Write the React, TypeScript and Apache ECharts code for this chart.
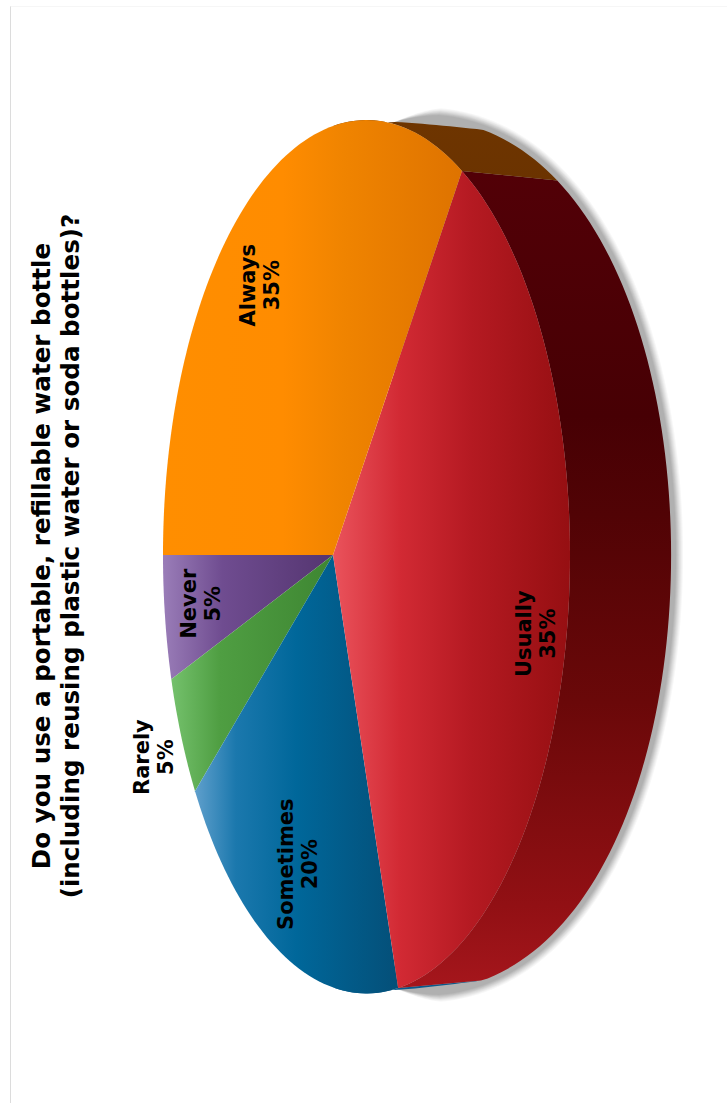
import React, { useEffect, useRef } from "react";
import * as echarts from "echarts";

// Survey answers, clockwise from the left-most rim point of the disc.
const categories = ["Never", "Rarely", "Sometimes", "Usually", "Always"];
const shares = [5, 5, 20, 35, 35];
const titleLines = [
  "Do you use a portable, refillable water bottle",
  "(including reusing plastic water or soda bottles)?",
];

// How far along its slice's middle radius each label sits (1 = rim),
// plus a small nudge in pixels.
const labelReach = [0.75, 1.25, 0.78, 0.9, 0.78];
const labelNudgeX = [-1, 5, 8, -3, -7];
const labelNudgeY = [0, -18, -2, 8, 12];

// Top-face shading, darker towards the wall side of the disc.
const faceStops: [number, string][][] = [
  [[0, "#9A7DB8"], [0.35, "#6F4C90"], [1, "#543570"]],
  [[0, "#74C16C"], [0.3, "#4F9E42"], [1, "#3E8632"]],
  [[0, "#5F9FCC"], [0.2, "#1B78AD"], [0.5, "#00679A"], [1, "#044F78"]],
  [[0, "#EA535C"], [0.28, "#D22A34"], [0.58, "#B51A22"], [1, "#960F12"]],
  [[0, "#FF8E00"], [0.4, "#FF8C00"], [0.6, "#F08400"], [1, "#DE7300"]],
];
const wallStops: [number, string][][] = [
  [[0, "#552E66"], [1, "#552E66"]],
  [[0, "#3C7F30"], [1, "#3C7F30"]],
  [[0, "#0A5A8C"], [1, "#0A5A8C"]],
  [[0, "#520007"], [0.3, "#470004"], [0.42, "#510305"], [0.65, "#6A0809"], [0.9, "#921014"], [1, "#A5161C"]],
  [[0, "#6E3500"], [1, "#6B3300"]],
];

// Outline spread and opacity of the stacked layers that make the soft shadow.
const shadowSpread = [12, 11, 10, 9, 8, 7, 6, 5];
const shadowAlpha = [0.03, 0.03, 0.04, 0.04, 0.05, 0.05, 0.05, 0.05];

// Perspective of the tilted disc: apex, half-axes and foreshortening.
const APEX_X = 333;
const APEX_Y = 555;
const AXIS_X = 198;
const AXIS_Y = 429;
const NEAR_SIDE_Y = 1.008;
const TILT = 0.1646;
// Slight stretch of the slice angles next to the left-most rim point.
const LENS = 4.8;
// Rim of the underside as seen past the wall.
const BASE_X = 394.6;
const BASE_AXIS_X = 276.5;
const BASE_AXIS_Y = 433;
const BASE_TILT = 0.11;
// Close to its ends the silhouette runs nearly straight into the top face.
const BASE_FLAT_U = 0.32;
const BASE_FLAT_EASE = 1.25;
const BASE_END_UP = 433;
const BASE_END_DOWN = 435;

const STEP = 1.5;
const WALL_FROM = 90;
const WALL_TO = 270;
const FONT = '"DejaVu Sans", sans-serif';

const toRad = (deg: number) => (deg * Math.PI) / 180;

function lens(deg: number) {
  const r = toRad(deg);
  return deg + LENS * Math.sin(r) * Math.pow((1 + Math.cos(r)) / 2, 3);
}

function topPoint(deg: number, reach = 1): [number, number] {
  const u = -Math.cos(toRad(deg)) * reach;
  const v = Math.sin(toRad(deg)) * reach;
  const d = 1 - TILT * u;
  const yScale = v > 0 ? AXIS_Y * NEAR_SIDE_Y : AXIS_Y;
  return [APEX_X + (AXIS_X * u) / d, APEX_Y + (yScale * v) / d];
}

function rawBase(u: number, v: number): [number, number] {
  return [BASE_X + BASE_AXIS_X * u, APEX_Y + (BASE_AXIS_Y * v) / (1 - BASE_TILT * u)];
}

function basePoint(deg: number): [number, number] {
  const u = -Math.cos(toRad(deg));
  const v = Math.sin(toRad(deg));
  if (u >= BASE_FLAT_U) return rawBase(u, v);
  const sign = v >= 0 ? 1 : -1;
  const [fx, fy] = rawBase(BASE_FLAT_U, sign * Math.sqrt(1 - BASE_FLAT_U * BASE_FLAT_U));
  const endY = APEX_Y + sign * (sign > 0 ? BASE_END_DOWN : BASE_END_UP);
  const t = Math.max(u, 0) / BASE_FLAT_U;
  return [BASE_X + (fx - BASE_X) * t, endY + (fy - endY) * Math.pow(t, BASE_FLAT_EASE)];
}

// Rim of the underside pushed outwards, fading to nothing at its two ends.
function shadowPoint(deg: number, spread: number): [number, number] {
  const u = -Math.cos(toRad(deg));
  const v = Math.sin(toRad(deg));
  const [x, y] = rawBase(u, v);
  const nx = u / BASE_AXIS_X;
  const ny = v / BASE_AXIS_Y;
  const len = Math.hypot(nx, ny);
  const amount = spread * Math.min(1, Math.max(u, 0) / 0.15);
  return [x + (amount * nx) / len, y + (amount * ny) / len];
}

function sweep(from: number, to: number, at: (deg: number) => [number, number]) {
  const pts: [number, number][] = [];
  const n = Math.max(2, Math.ceil((to - from) / STEP));
  for (let i = 0; i <= n; i++) pts.push(at(from + ((to - from) * i) / n));
  return pts;
}

function sliceRange(index: number): [number, number] {
  let start = 0;
  for (let i = 0; i < index; i++) start += shares[i] * 3.6;
  return [lens(start), lens(start + shares[index] * 3.6)];
}

const gradient = (stops: [number, string][], horizontal: boolean) =>
  new echarts.graphic.LinearGradient(
    0,
    0,
    horizontal ? 1 : 0,
    horizontal ? 0 : 1,
    stops.map(([offset, color]) => ({ offset, color }))
  );

const sliceData = shares.map((s) => [s]);
const shadowData = shadowSpread.map((s, i) => [s, shadowAlpha[i]]);

function buildOption() {
  return {
    animation: false,
    backgroundColor: "#ffffff",
    graphic: [
      {
        type: "line",
        silent: true,
        shape: { x1: 10.5, y1: 6, x2: 10.5, y2: 1103 },
        style: { stroke: "#dcdcdc", lineWidth: 1 },
      },
      {
        type: "line",
        silent: true,
        shape: { x1: 10.5, y1: 6.5, x2: 727, y2: 6.5 },
        style: { stroke: "#f6f6f6", lineWidth: 1 },
      },
      {
        type: "text",
        silent: true,
        x: 56,
        y: 556,
        rotation: Math.PI / 2,
        style: {
          text: titleLines.join("\n"),
          font: `bold 24.6px ${FONT}`,
          lineHeight: 29,
          fill: "#000000",
          align: "center",
          verticalAlign: "middle",
        },
      },
    ],
    series: [
      {
        // Soft shadow around the visible part of the wall.
        type: "custom",
        coordinateSystem: "none",
        silent: true,
        z: 1,
        data: shadowData,
        renderItem: (_: unknown, api: any) => {
          const spread = api.value(0);
          return {
            type: "polygon",
            shape: {
              points: sweep(WALL_FROM, WALL_TO, (deg) => shadowPoint(deg, spread)),
            },
            style: { fill: `rgba(0,0,0,${api.value(1)})` },
          };
        },
      },
      {
        // Side wall of each slice.
        type: "custom",
        coordinateSystem: "none",
        silent: true,
        z: 2,
        data: sliceData,
        renderItem: (params: any) => {
          const [start, end] = sliceRange(params.dataIndex);
          const from = Math.max(start, WALL_FROM);
          const to = Math.min(end, WALL_TO);
          if (to <= from) return null;
          const points = [...sweep(from, to, topPoint), ...sweep(from, to, basePoint).reverse()];
          return {
            type: "polygon",
            shape: { points },
            style: { fill: gradient(wallStops[params.dataIndex], false) },
          };
        },
      },
      {
        // Top face of each slice.
        type: "custom",
        coordinateSystem: "none",
        silent: true,
        z: 3,
        data: sliceData,
        renderItem: (params: any) => {
          const [start, end] = sliceRange(params.dataIndex);
          const points: [number, number][] = [[APEX_X, APEX_Y], ...sweep(start, end, topPoint)];
          return {
            type: "polygon",
            shape: { points },
            style: { fill: gradient(faceStops[params.dataIndex], true) },
          };
        },
      },
      {
        // Category and share, reading upwards along the slice.
        type: "custom",
        coordinateSystem: "none",
        silent: true,
        z: 4,
        data: sliceData,
        renderItem: (params: any, api: any) => {
          const i = params.dataIndex;
          const [start, end] = sliceRange(i);
          const [x, y] = topPoint((start + end) / 2, labelReach[i]);
          return {
            type: "text",
            x: x + labelNudgeX[i],
            y: y + labelNudgeY[i],
            rotation: Math.PI / 2,
            style: {
              text: `${categories[i]}\n${api.value(0)}%`,
              font: `bold 21px ${FONT}`,
              lineHeight: 24,
              fill: "#000000",
              align: "center",
              verticalAlign: "middle",
            },
          };
        },
      },
    ],
  };
}

export default function App() {
  const ref = useRef<HTMLDivElement>(null);
  useEffect(() => {
    if (!ref.current) return;
    const chart = echarts.init(ref.current, undefined, { renderer: "svg" });
    chart.setOption(buildOption());
    return () => chart.dispose();
  }, []);
  return (
    <div
      ref={ref}
      style={{ position: "fixed", left: 0, top: 0, width: 727, height: 1103 }}
    />
  );
}
